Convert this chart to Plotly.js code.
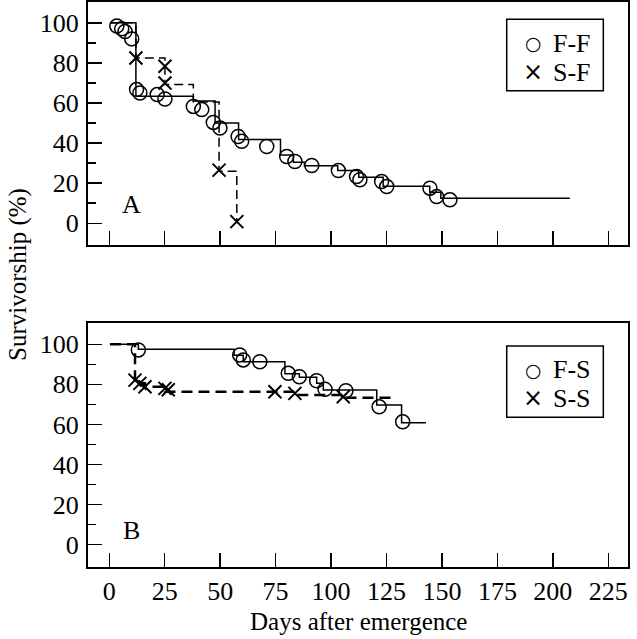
<!DOCTYPE html>
<html>
<head>
<meta charset="utf-8">
<script src="https://cdn.plot.ly/plotly-3.0.1.min.js"></script>
<style>html,body{margin:0;padding:0;background:#fff}#chart{width:637px;height:639px}</style>
</head>
<body>
<div id="chart"></div>
<script>
// ---------- Panel A ----------
const ffDays = [3.4, 5.6, 7.1, 10.1, 12.3, 13.8, 21.6, 25.1, 37.9, 41.7, 46.9, 49.9, 58.1, 59.7, 71.0, 80.0, 83.7, 91.3, 103.3, 111.5, 113.0, 122.8, 125.1, 144.6, 147.6, 153.6];
const ffSurv = [98.4, 97.0, 95.7, 92.0, 66.7, 65.0, 64.2, 62.0, 58.3, 56.7, 50.3, 47.5, 43.3, 40.9, 38.3, 33.3, 30.8, 28.8, 26.3, 23.3, 21.7, 20.8, 18.3, 17.5, 13.3, 11.7];
const ffStepDays = [0.3, 12.0, 37.9, 47.7, 58.3, 77.2, 83.0, 88.0, 103.0, 112.5, 123.5, 144.5, 149.5, 207.7];
const ffStepSurv = [100, 63.4, 61.0, 50.0, 41.8, 34.0, 30.5, 28.7, 26.3, 23.0, 18.5, 15.5, 12.5, 12.5];

const sfDays = [12.0, 25.1, 25.1, 49.5, 57.5];
const sfSurv = [82.5, 78.3, 70.0, 26.5, 0.8];
const sfStepDays = [0.3, 12.0, 25.1, 37.9, 49.5, 57.5];
const sfStepSurv = [100, 82.5, 69.2, 60.5, 26.0, 0.8];

// ---------- Panel B ----------
const fsDays = [13.1, 58.8, 60.4, 67.9, 80.7, 85.7, 93.5, 97.3, 106.7, 121.7, 132.3];
const fsSurv = [97.2, 94.7, 92.2, 91.3, 85.5, 83.8, 81.8, 77.5, 76.8, 68.8, 61.3];
const fsStepDays = [0.3, 13.1, 56.3, 60.4, 79.2, 85.7, 93.5, 96.5, 120.6, 131.8, 142.8];
const fsStepSurv = [100, 97.5, 94.5, 91.3, 85.3, 83.5, 80.5, 77.2, 69.7, 60.8, 60.8];

const ssDays = [11.6, 13.8, 16.1, 25.1, 26.6, 74.7, 83.7, 105.5];
const ssSurv = [82.1, 80.5, 78.8, 78.0, 77.3, 76.3, 75.5, 73.8];
const ssStepDays = [0.3, 11.6, 13.8, 16.1, 25.1, 83.7, 105.5, 128.8];
const ssStepSurv = [100, 82.0, 80.5, 78.8, 76.3, 74.7, 73.3, 73.3];

const xTickVals = [0, 25, 50, 75, 100, 125, 150, 175, 200, 225];
const yTickVals = [0, 20, 40, 60, 80, 100];
const yMinorVals = [10, 30, 50, 70, 90];
const panelLabels = ["A", "B"];
const legendNames = ["F-F", "S-F", "F-S", "S-S"];
const legendGlyphs = ["\u25CB", "\u00D7", "\u25CB", "\u00D7"];
const xTitle = "Days after emergence";
const yTitle = "Survivorship (%)";

const FONT = "Liberation Serif";
const circleMarker = {symbol: "circle-open", size: 14, color: "black", line: {color: "black", width: 1.5}};
const crossMarker = {symbol: "x-thin-open", size: 13, color: "black", line: {color: "black", width: 2}};

const traces = [
  {x: ffStepDays, y: ffStepSurv, xaxis: "x", yaxis: "y", mode: "lines", line: {shape: "hv", color: "black", width: 1.5}, hoverinfo: "skip"},
  {x: sfStepDays, y: sfStepSurv, xaxis: "x", yaxis: "y", mode: "lines", line: {shape: "hv", color: "black", width: 1.5, dash: "9px,5px"}, hoverinfo: "skip"},
  {x: ffDays, y: ffSurv, xaxis: "x", yaxis: "y", mode: "markers", name: legendNames[0], marker: circleMarker},
  {x: sfDays, y: sfSurv, xaxis: "x", yaxis: "y", mode: "markers", name: legendNames[1], marker: crossMarker},
  {x: fsStepDays, y: fsStepSurv, xaxis: "x2", yaxis: "y2", mode: "lines", line: {shape: "hv", color: "black", width: 1.5}, hoverinfo: "skip"},
  {x: ssStepDays, y: ssStepSurv, xaxis: "x2", yaxis: "y2", mode: "lines", line: {shape: "hv", color: "black", width: 2.5, dash: "11px,6px"}, hoverinfo: "skip"},
  {x: fsDays, y: fsSurv, xaxis: "x2", yaxis: "y2", mode: "markers", name: legendNames[2], marker: circleMarker},
  {x: ssDays, y: ssSurv, xaxis: "x2", yaxis: "y2", mode: "markers", name: legendNames[3], marker: crossMarker}
];

const xBase = {
  range: [-9.6, 233.9], tickvals: xTickVals, ticktext: xTickVals.map(String),
  ticks: "inside", ticklen: 14, tickwidth: 1.5, tickcolor: "black",
  showline: true, linecolor: "black", linewidth: 2, mirror: true,
  showgrid: false, zeroline: false, fixedrange: true,
  tickfont: {family: FONT, size: 26, color: "black"}
};
const yBase = {
  tickvals: yTickVals, ticktext: yTickVals.map(String),
  ticks: "inside", ticklen: 14, tickwidth: 1.5, tickcolor: "black",
  minor: {tickvals: yMinorVals, ticks: "inside", ticklen: 8, tickwidth: 1.5, tickcolor: "black", showgrid: false},
  showline: true, linecolor: "black", linewidth: 2, mirror: true,
  showgrid: false, zeroline: false, fixedrange: true,
  tickfont: {family: FONT, size: 26, color: "black"}, ticklabelstandoff: 2
};

// legend boxes (paper coords) and rows
const legendBoxes = [{x0: 0.7754, x1: 0.9543, y0: 0.8430, y1: 0.9694}, {x0: 0.7754, x1: 0.9543, y0: 0.2650, y1: 0.3912}];
const legendRowY = [0.9274, 0.8761, 0.3487, 0.2986];
const legendSymX = 0.8241, legendTextX = 0.8574;

const shapes = legendBoxes.map(b => ({type: "rect", xref: "paper", yref: "paper", x0: b.x0, x1: b.x1, y0: b.y0, y1: b.y1,
  line: {color: "black", width: 1.5}, fillcolor: "white", layer: "above"}));

const annotations = [
  {text: panelLabels[0], xref: "x", yref: "y", x: 10.2, y: 9.2, showarrow: false, font: {family: FONT, size: 26, color: "black"}},
  {text: panelLabels[1], xref: "x2", yref: "y2", x: 10.0, y: 7.2, showarrow: false, font: {family: FONT, size: 26, color: "black"}},
  {text: yTitle, xref: "paper", yref: "paper", x: -0.1296, y: 0.5168, xanchor: "center", yanchor: "middle", textangle: -90, showarrow: false, font: {family: FONT, size: 25, color: "black"}},
  {text: xTitle, xref: "paper", yref: "paper", x: 0.5, y: -0.0956, xanchor: "center", yanchor: "middle", showarrow: false, font: {family: FONT, size: 25, color: "black"}}
];
legendNames.forEach((n, i) => {
  annotations.push({text: legendGlyphs[i], xref: "paper", yref: "paper", x: legendSymX, y: legendRowY[i], xanchor: "center", yanchor: "middle", showarrow: false,
    font: {family: "DejaVu Sans", size: i % 2 === 0 ? 19 : 24, color: "black"}});
  annotations.push({text: n, xref: "paper", yref: "paper", x: legendTextX, y: legendRowY[i], xanchor: "left", yanchor: "middle", showarrow: false,
    font: {family: FONT, size: 26, color: "black"}});
});

const layout = {
  width: 637, height: 639,
  margin: {l: 88, r: 9, t: 2, b: 72},
  paper_bgcolor: "white", plot_bgcolor: "white",
  font: {family: FONT, color: "black"},
  showlegend: false,
  xaxis: Object.assign({}, xBase, {anchor: "y", domain: [0, 1], showticklabels: false}),
  yaxis: Object.assign({}, yBase, {anchor: "x", domain: [0.5699, 1], range: [-10.85, 110.4]}),
  xaxis2: Object.assign({}, xBase, {anchor: "y2", domain: [0, 1], showticklabels: true}),
  yaxis2: Object.assign({}, yBase, {anchor: "x2", domain: [0, 0.4324], range: [-11.2, 110.8]}),
  shapes: shapes,
  annotations: annotations
};

Plotly.newPlot("chart", traces, layout, {staticPlot: true, displayModeBar: false});
</script>
</body>
</html>
